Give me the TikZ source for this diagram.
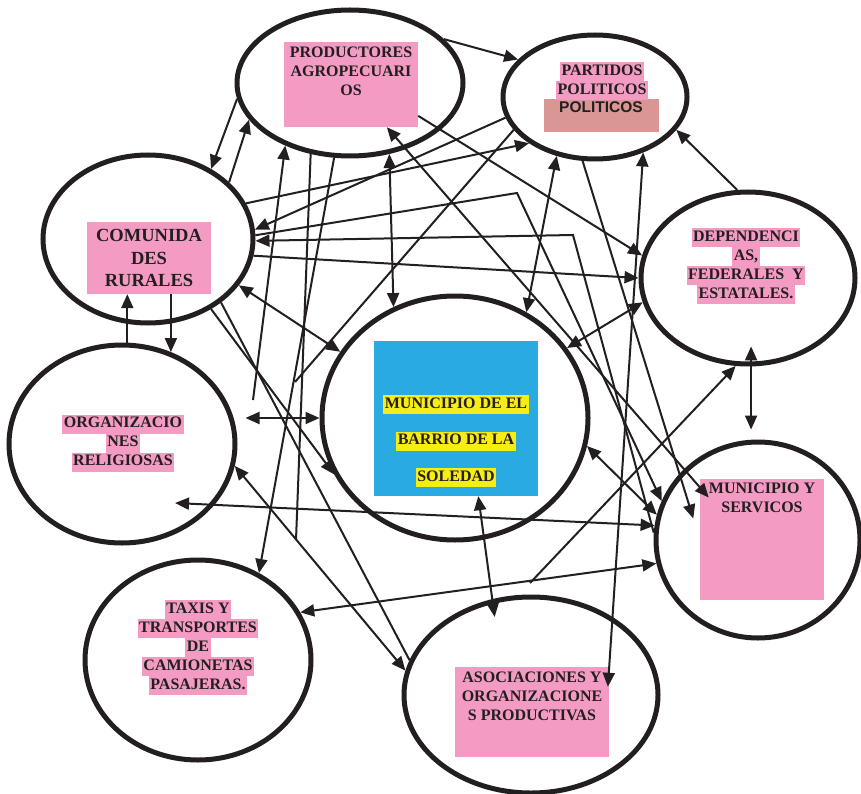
\documentclass[tikz,border=0pt]{standalone}
\usepackage{fontspec}
\usepackage{xcolor}
\usepackage{tikz}
\setmainfont{Liberation Serif}
\newfontfamily\arialfont{Liberation Sans}
\usetikzlibrary{shapes.geometric,arrows.meta}

\definecolor{rosa}{HTML}{F39BC3}
\definecolor{rosaoscuro}{HTML}{D99694}
\definecolor{azul}{HTML}{29ABE2}
\definecolor{amarillo}{HTML}{F7EC13}
\definecolor{tinta}{HTML}{231F20}

\newcommand{\resaltar}[2]{{\setlength{\fboxsep}{0pt}\colorbox{#1}{\strut\hspace{1.5pt}#2\hspace{1.5pt}}}}

\begin{document}
\begin{tikzpicture}[x=1pt, y=-1pt,
    >={Triangle[length=14pt,width=12pt]},
    ovalo/.style={ellipse, draw=tinta, line width=5pt, inner sep=0pt},
    cajarosa/.style={fill=rosa, inner sep=0pt},
    texto/.style={text=tinta, font=\bfseries\fontsize{16}{19}\selectfont, align=center, inner sep=0pt},
    enlace/.style={draw=tinta, line width=2pt}]
    \useasboundingbox (0,0) rectangle (861,794);

    % Ovals of the actors
    \node[ovalo, minimum width=226, minimum height=146] (prod) at (350,83) {};
    \node[ovalo, minimum width=184, minimum height=124] (part) at (595,97) {};
    \node[ovalo, minimum width=210, minimum height=168] (comu) at (148,239) {};
    \node[ovalo, minimum width=214, minimum height=172] (dep) at (748,278) {};
    \node[ovalo, minimum width=226, minimum height=198] (reli) at (122,444) {};
    \node[ovalo, minimum width=266, minimum height=244] (mun) at (455,418) {};
    \node[ovalo, minimum width=204, minimum height=196] (serv) at (758,540) {};
    \node[ovalo, minimum width=226, minimum height=200] (taxi) at (198,660) {};
    \node[ovalo, minimum width=254, minimum height=196] (asoc) at (531,695) {};

    % Coloured boxes
    \node[cajarosa, minimum width=134, minimum height=85] (prodbox) at (351,84.5) {};
    \node[fill=rosaoscuro, inner sep=0pt, minimum width=115, minimum height=33] (partbox) at (601.5,115.5) {};
    \node[cajarosa, texto, font=\bfseries\fontsize{18.5}{22.5}\selectfont, minimum width=124, minimum height=72] (combox) at (149,258) {COMUNIDA\\DES\\RURALES};
    \node[fill=azul, inner sep=0pt, minimum width=164, minimum height=155] (munbox) at (456,418.5) {};
    \node[cajarosa, minimum width=124, minimum height=121] (servbox) at (762,539.5) {};
    \node[cajarosa, minimum width=154, minimum height=90] (asocbox) at (532,712) {};

    % Texts
    \node[texto] (prodtxt) at (351,71) {PRODUCTORES\\AGROPECUARI\\OS};
    \node[texto] (parttxt) at (602,81) {\resaltar{rosa}{PARTIDOS}\\\resaltar{rosa}{POLITICOS}};
    \node[texto, font=\arialfont\bfseries\fontsize{15.5}{19}\selectfont] (partlbl) at (601,107) {POLITICOS};
    \node[texto] (deptxt) at (746,266) {\resaltar{rosa}{DEPENDENCI}\\\resaltar{rosa}{AS,}\\\resaltar{rosa}{FEDERALES\ \ Y}\\\resaltar{rosa}{ESTATALES.}};
    \node[texto] (relitxt) at (123,443) {\resaltar{rosa}{ORGANIZACIO}\\\resaltar{rosa}{NES}\\\resaltar{rosa}{RELIGIOSAS}};
    \node[texto] (muntxt) at (456,441) {\resaltar{amarillo}{MUNICIPIO DE EL}\\[17.5pt]\resaltar{amarillo}{BARRIO DE LA}\\[17.5pt]\resaltar{amarillo}{SOLEDAD}};
    \node[texto] (servtxt) at (762,497.5) {MUNICIPIO Y\\SERVICOS};
    \node[texto] (taxitxt) at (198,647.5) {\resaltar{rosa}{TAXIS Y}\\\resaltar{rosa}{TRANSPORTES}\\\resaltar{rosa}{DE}\\\resaltar{rosa}{CAMIONETAS}\\\resaltar{rosa}{PASAJERAS.}};
    \node[texto] (asoctxt) at (532,696) {ASOCIACIONES Y\\ORGANIZACIONE\\S PRODUCTIVAS};

    % Loose ends and bends
    \coordinate (extremo1) at (253,400);
    \coordinate (extremo2) at (296,540);
    \coordinate (extremo3) at (295,382);
    \coordinate (extremo4) at (530,583);
    \coordinate (relipunta) at (175,503);
    \coordinate (quiebreA) at (517,193);
    \coordinate (quiebreB) at (573,235);

    % Connectors
    \draw[enlace,->] (prod.-172) -- (comu.48);
    \draw[enlace,->] (comu.35) -- (prod.-160);
    \draw[enlace,->] (extremo1) -- (prod.-136);
    \draw[enlace] (prod.-119) -- (extremo2);
    \draw[enlace,->] (prod.-102) -- (taxi.55);
    \draw[enlace,<->] (prod.-61) -- (mun.119);
    \draw[enlace,<->] (prodbox.-50) -- (servtxt.west);
    \draw[enlace,->] (prodbox.-25) -- (dep.168);
    \draw[enlace,->] (prod.25) -- (part.154);
    \draw[enlace,->] (part.-167) -- (comu.5);
    \draw[enlace,->] (comu.20) -- (part.-145);
    \draw[enlace] (part.-158) -- (extremo3);
    \draw[enlace,<->] (comu.-27) -- (mun.150);
    \draw[enlace,->] (comu.-48) -- (mun.-155);
    \draw[enlace] (comu.-41) -- (asoc.164);
    \draw[enlace,<->] (reli.-11) -- (asoc.169);
    \draw[enlace,<->, shorten <=8pt] (reli.east |- mun.west) -- (mun.west);
    \draw[enlace,->] (reli.87) -- (reli.87 |- combox.south);
    \draw[enlace,->] (combox.south -| reli.62) -- (reli.62);
    \draw[enlace,<->] (relipunta) -- (serv.172);
    \draw[enlace,<->] (taxi.25) -- (serv.-167);
    \draw[enlace,<->, shorten >=-18pt] (munbox.-74) -- (asoc.112);
    \draw[enlace,->] (extremo4) -- (dep.-98);
    \draw[enlace,<->, shorten <=-20pt, shorten >=10pt] (dep.-88) -- (dep.-88 |- serv.north);
    \draw[enlace,->] (dep.97) -- (part.-22);
    \draw[enlace,<->] (part.-123) -- (mun.56);
    \draw[enlace,->, shorten >=22pt] (part.-101) -- (servbox.west);
    \draw[enlace,<->, shorten >=-20pt] (part.-49) -- (asocbox.north east);
    \draw[enlace,->] (comu.2) -- (quiebreA) -- (serv.158);
    \draw[enlace,->] (serv.176) -- (quiebreB) -- (comu.-1);
    \draw[enlace,->] (comu.-9) -- (dep.180);
    \draw[enlace,<->] (dep.-167) -- (mun.32);
    \draw[enlace,<->] (mun.-12) -- (serv.166);
\end{tikzpicture}
\end{document}
